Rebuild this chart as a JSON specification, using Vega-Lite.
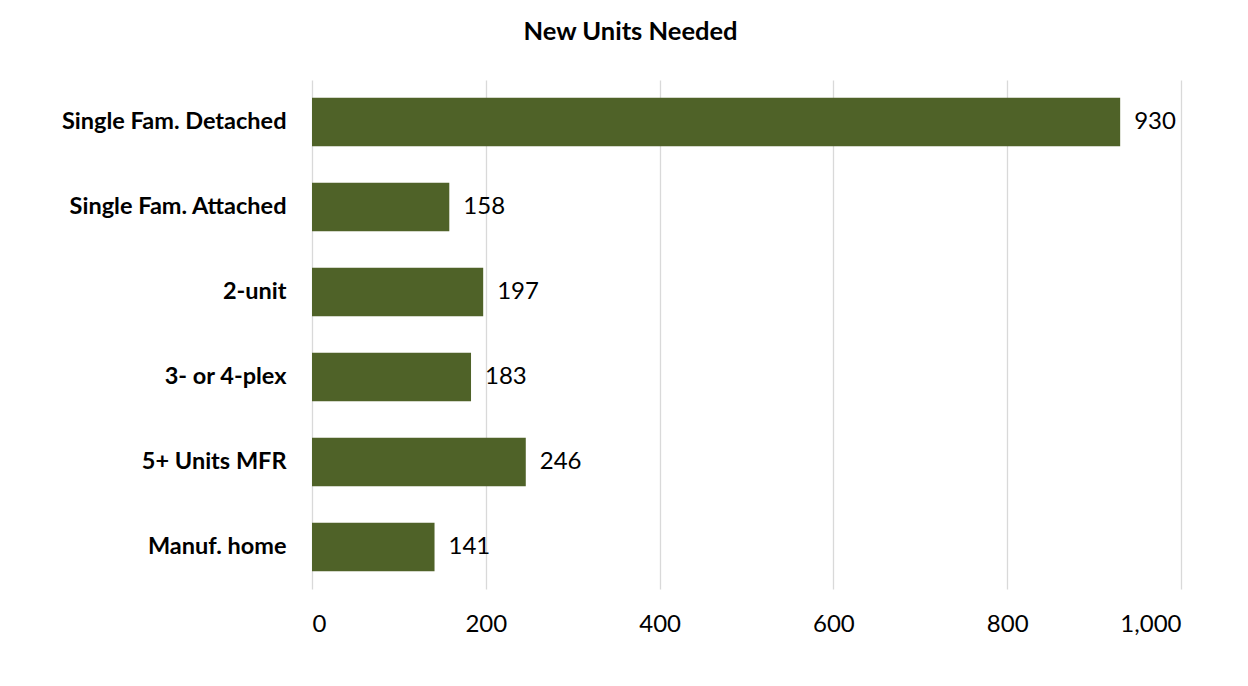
{
  "$schema": "https://vega.github.io/schema/vega-lite/v6.json",
  "autosize": {"type": "none"},
  "padding": {"left": 312, "top": 80, "right": 67, "bottom": 97},
  "width": 869,
  "height": 509,
  "background": "white",
  "title": {
    "text": "New Units Needed",
    "font": "Lato",
    "fontSize": 25.5,
    "fontWeight": "bold",
    "color": "#000000",
    "anchor": "middle",
    "dx": -116,
    "baseline": "alphabetic",
    "offset": 15
  },
  "data": {
    "values": [
      {"type": "Single Fam. Detached", "units": 930},
      {"type": "Single Fam. Attached", "units": 158},
      {"type": "2-unit", "units": 197},
      {"type": "3- or 4-plex", "units": 183},
      {"type": "5+ Units MFR", "units": 246},
      {"type": "Manuf. home", "units": 141}
    ]
  },
  "encoding": {
    "y": {
      "field": "type",
      "type": "nominal",
      "sort": null,
      "scale": {"paddingInner": 0.43, "paddingOuter": 0.21},
      "axis": {
        "title": null,
        "domain": false,
        "ticks": false,
        "labelFont": "Lato",
        "labelFontSize": 23.5,
        "labelFontWeight": "bold",
        "labelColor": "#000000",
        "labelPadding": 26,
        "labelLimit": 400
      }
    },
    "x": {
      "field": "units",
      "type": "quantitative",
      "scale": {"domain": [0, 1000], "nice": false},
      "axis": {
        "title": null,
        "values": [0, 200, 400, 600, 800, 1000],
        "format": ",.0f",
        "domain": false,
        "ticks": false,
        "grid": true,
        "gridColor": "#d9d9d9",
        "gridWidth": 1.3,
        "labelFont": "Lato",
        "labelFontSize": 24,
        "labelColor": "#000000",
        "labelPadding": 23
      }
    }
  },
  "layer": [
    {"mark": {"type": "bar", "color": "#4F6228"}},
    {
      "mark": {
        "type": "text",
        "align": "left",
        "baseline": "middle",
        "dx": 14,
        "font": "Lato",
        "fontSize": 24,
        "color": "#000000"
      },
      "encoding": {"text": {"field": "units", "type": "quantitative"}}
    }
  ],
  "config": {"view": {"stroke": null}}
}
